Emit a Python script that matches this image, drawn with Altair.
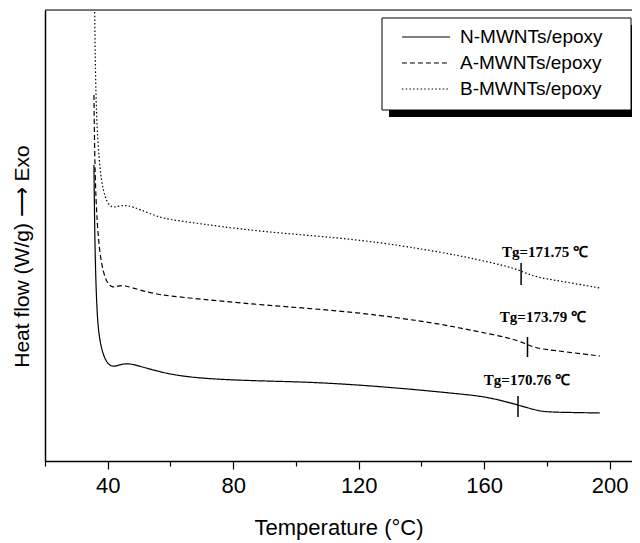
import altair as alt
import pandas as pd

# ---- data (heat flow in arbitrary units, no scale shown) ----
series_names = ["N-MWNTs/epoxy", "A-MWNTs/epoxy", "B-MWNTs/epoxy"]

temps_N = [35.6, 35.9, 36.5, 37.2, 38.5, 40.0, 41.6, 43.5, 46.3, 50.0, 56.7, 63.0, 72.6,
           88.5, 104.0, 120.4, 136.0, 145.9, 152.3, 158.6, 165.0, 170.8, 176.2, 179.4, 188.0, 196.9]
flow_N = [29.6, 21.1, 15.1, 12.4, 10.6, 9.7, 9.4, 9.6, 9.8, 9.5, 8.9, 8.5, 8.2,
          8.0, 7.9, 7.6, 7.2, 6.9, 6.7, 6.5, 6.1, 5.6, 5.1, 4.9, 4.85, 4.8]

temps_A = [35.6, 35.8, 36.2, 37.0, 38.0, 39.5, 41.4, 43.2, 45.2, 50.0, 56.7, 63.0, 88.5,
           120.4, 145.9, 152.3, 158.6, 168.2, 172.7, 176.2, 181.0, 196.9]
flow_A = [36.6, 31.1, 26.1, 22.1, 19.6, 17.9, 17.3, 17.5, 17.6, 17.1, 16.6, 16.4, 15.6,
          14.9, 13.7, 13.3, 12.9, 12.3, 11.8, 11.3, 11.1, 10.5]

temps_B = [35.8, 36.0, 36.3, 36.6, 37.5, 38.5, 39.8, 41.4, 43.5, 46.1, 50.0, 56.7, 63.0,
           88.5, 120.4, 145.9, 152.3, 158.6, 168.2, 171.7, 176.2, 184.1, 196.9]
flow_B = [46.0, 40.0, 36.1, 33.1, 29.1, 27.1, 25.8, 25.3, 25.5, 25.6, 25.2, 24.3, 24.0,
          22.9, 22.2, 20.9, 20.5, 20.1, 19.4, 19.0, 18.4, 18.0, 17.3]

tg_values = [170.76, 173.79, 171.75]
tg_tick_top = [6.5, 12.4, 19.8]
tg_tick_bottom = [4.4, 10.4, 17.6]
tg_label_x = [173.6, 178.7, 179.4]
tg_label_y = [8.1, 14.4, 20.9]
tg_labels = ["Tg=170.76 ℃", "Tg=173.79 ℃", "Tg=171.75 ℃"]

x_ticks = list(range(20, 201, 20))

W, H = 587, 451
XDOM = [20, 207.1]
YDOM = [0, 45.1]

rows = []
for name, ts, fs in zip(series_names, [temps_N, temps_A, temps_B], [flow_N, flow_A, flow_B]):
    for i, (t, f) in enumerate(zip(ts, fs)):
        rows.append({"series": name, "T": t, "flow": f, "order": i})
curves = pd.DataFrame(rows)

tg_df = pd.DataFrame({"Tg": tg_values, "top": tg_tick_top, "bottom": tg_tick_bottom,
                      "lx": tg_label_x, "ly": tg_label_y, "label": tg_labels})

xscale = alt.Scale(domain=XDOM, nice=False, zero=False)
yscale = alt.Scale(domain=YDOM, nice=False, zero=False)

dash_scale = alt.Scale(domain=series_names, range=[[1, 0], [5, 3], [1.5, 2.2]])

lines = alt.Chart(curves).mark_line(color="black", strokeWidth=1.2, interpolate="basis",
                                    clip=True).encode(
    x=alt.X("T:Q", scale=xscale,
            axis=alt.Axis(values=x_ticks, title="Temperature (°C)",
                          labelExpr="datum.value % 40 === 0 ? datum.label : ''",
                          tickSize={"condition": {"test": "datum.value % 40 === 0", "value": 8}, "value": 5},
                          tickColor="black", tickWidth=1.2, domainColor="black", domainWidth=1.5,
                          labelFont="Liberation Sans", labelFontSize=22, labelColor="black",
                          labelPadding=6, grid=False,
                          titleFont="Liberation Sans", titleFontSize=22, titleFontWeight="normal",
                          titleColor="black", titleY=66, titleBaseline="middle")),
    y=alt.Y("flow:Q", scale=yscale,
            axis=alt.Axis(ticks=False, labels=False, grid=False, domainColor="black", domainWidth=1.5,
                          title="Heat flow (W/g)  ⟶  Exo", titleFont="Liberation Sans",
                          titleFontSize=21, titleFontWeight="normal", titleColor="black",
                          titleAngle=-90, titleX=-23, titleY=246, titleAlign="center",
                          titleBaseline="middle")),
    strokeDash=alt.StrokeDash("series:N", scale=dash_scale, legend=None),
    detail="series:N",
    order="order:Q",
)

tg_ticks = alt.Chart(tg_df).mark_rule(color="black", strokeWidth=1.5).encode(
    x=alt.X("Tg:Q", scale=xscale), y=alt.Y("top:Q", scale=yscale), y2="bottom:Q")

tg_text = alt.Chart(tg_df).mark_text(font="Liberation Serif", fontWeight="bold", fontSize=15,
                                     color="black", baseline="middle", align="center").encode(
    x=alt.X("lx:Q", scale=xscale), y=alt.Y("ly:Q", scale=yscale), text="label:N")

top_border = alt.Chart(tg_df.head(1)).mark_rule(color="black", strokeWidth=1.2).encode(
    x=alt.value(0), x2=alt.value(W), y=alt.value(0))

# legend box (drawn by hand to get the drop shadow)
shadow = alt.Chart(tg_df.head(1)).mark_rect(color="black", clip=False).encode(
    x=alt.value(344), x2=alt.value(594), y=alt.value(15), y2=alt.value(107))
box = alt.Chart(tg_df.head(1)).mark_rect(fill="white", stroke="black", strokeWidth=1).encode(
    x=alt.value(337), x2=alt.value(586), y=alt.value(8), y2=alt.value(100))

leg_rows = pd.DataFrame({"series": series_names, "ypix": [27, 53, 79]})
leg_layers = []
for name, yp, dash in zip(series_names, [27, 53, 79], [[1, 0], [5, 3], [1.5, 2.2]]):
    d = leg_rows[leg_rows.series == name]
    leg_layers.append(alt.Chart(d).mark_rule(color="black", strokeWidth=1.2, strokeDash=dash).encode(
        x=alt.value(357), x2=alt.value(405), y=alt.value(yp)))
    leg_layers.append(alt.Chart(d).mark_text(font="Liberation Sans", fontSize=19, color="black",
                                             align="left", baseline="middle").encode(
        x=alt.value(415), y=alt.value(yp), text="series:N"))

chart = alt.layer(lines, tg_ticks, tg_text, top_border, shadow, box, *leg_layers).properties(
    width=W, height=H,
    autosize=alt.AutoSizeParams(type="none"),
    padding={"left": 37, "top": 2, "right": 0, "bottom": 80},
).configure_view(stroke=None).configure(background="white")

chart.save("out.html", embed_options={"renderer": "svg", "actions": False})
